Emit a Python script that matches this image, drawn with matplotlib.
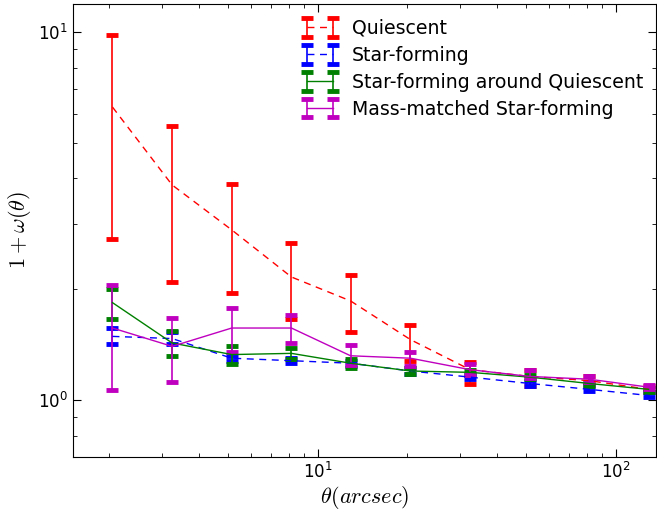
import numpy as np
import matplotlib
matplotlib.use("Agg")
import matplotlib.pyplot as plt

# angular bins (arcsec)
theta = [2.05, 3.25, 5.15, 8.17, 12.9, 20.5, 32.5, 51.5, 81.6, 129.0]

# 1 + w(theta): value, upper bound, lower bound
q_val = [6.25, 3.84, 2.90, 2.16, 1.86, 1.46, 1.21, 1.16, 1.13, 1.07]
q_hi = [9.8, 5.55, 3.86, 2.67, 2.19, 1.60, 1.27, 1.21, 1.16, 1.09]
q_lo = [2.74, 2.09, 1.95, 1.66, 1.53, 1.28, 1.105, 1.09, 1.10, 1.05]

sf_val = [1.49, 1.47, 1.30, 1.28, 1.26, 1.20, 1.155, 1.11, 1.07, 1.03]
sf_hi = [1.57, 1.53, 1.32, 1.30, 1.28, 1.22, 1.17, 1.13, 1.09, 1.05]
sf_lo = [1.42, 1.42, 1.28, 1.26, 1.24, 1.18, 1.14, 1.09, 1.06, 1.02]

sfq_val = [1.84, 1.43, 1.33, 1.34, 1.26, 1.20, 1.19, 1.155, 1.11, 1.07]
sfq_hi = [2.00, 1.54, 1.40, 1.39, 1.29, 1.22, 1.21, 1.17, 1.12, 1.08]
sfq_lo = [1.66, 1.32, 1.25, 1.29, 1.22, 1.18, 1.17, 1.14, 1.09, 1.05]

mm_val = [1.57, 1.40, 1.57, 1.57, 1.32, 1.30, 1.21, 1.16, 1.14, 1.085]
mm_hi = [2.06, 1.67, 1.78, 1.70, 1.41, 1.35, 1.25, 1.21, 1.16, 1.10]
mm_lo = [1.065, 1.12, 1.35, 1.43, 1.245, 1.24, 1.17, 1.15, 1.12, 1.07]

series = [
    ("Quiescent", q_val, q_hi, q_lo, "r", (0, (5, 4))),
    ("Star-forming", sf_val, sf_hi, sf_lo, "b", (0, (5, 4))),
    ("Star-forming around Quiescent", sfq_val, sfq_hi, sfq_lo, "g", "-"),
    ("Mass-matched Star-forming", mm_val, mm_hi, mm_lo, "m", "-"),
]

fig = plt.figure(figsize=(6.57, 5.12), dpi=100)
ax = fig.add_axes([0.111, 0.107, 0.888, 0.885])

for label, val, hi, lo, col, ls in series:
    val = np.array(val); hi = np.array(hi); lo = np.array(lo)
    ax.errorbar(theta, val, yerr=[val - lo, hi - val], color=col, ls=ls,
                lw=1.0, elinewidth=1.2, capsize=4, capthick=3.5, label=label)

ax.set_xscale("log")
ax.set_yscale("log")
ax.set_xlim(1.51, 137)
ax.set_ylim(0.70, 11.9)
ax.set_xlabel(r"$\theta(arcsec)$", fontsize=16, math_fontfamily="cm", labelpad=1)
ax.set_ylabel(r"$1+\omega(\theta)$", fontsize=16, math_fontfamily="cm")
ax.tick_params(which="both", direction="in", top=True, right=True, labelsize=12)
ax.tick_params(which="major", length=6)
ax.tick_params(which="minor", length=3)
ax.legend(loc="upper right", bbox_to_anchor=(1.007, 1.005), frameon=False, fontsize=13.6,
          numpoints=2, handlelength=2.0, labelspacing=0.42, handletextpad=0.7)

fig.savefig("out.png", dpi=100)
